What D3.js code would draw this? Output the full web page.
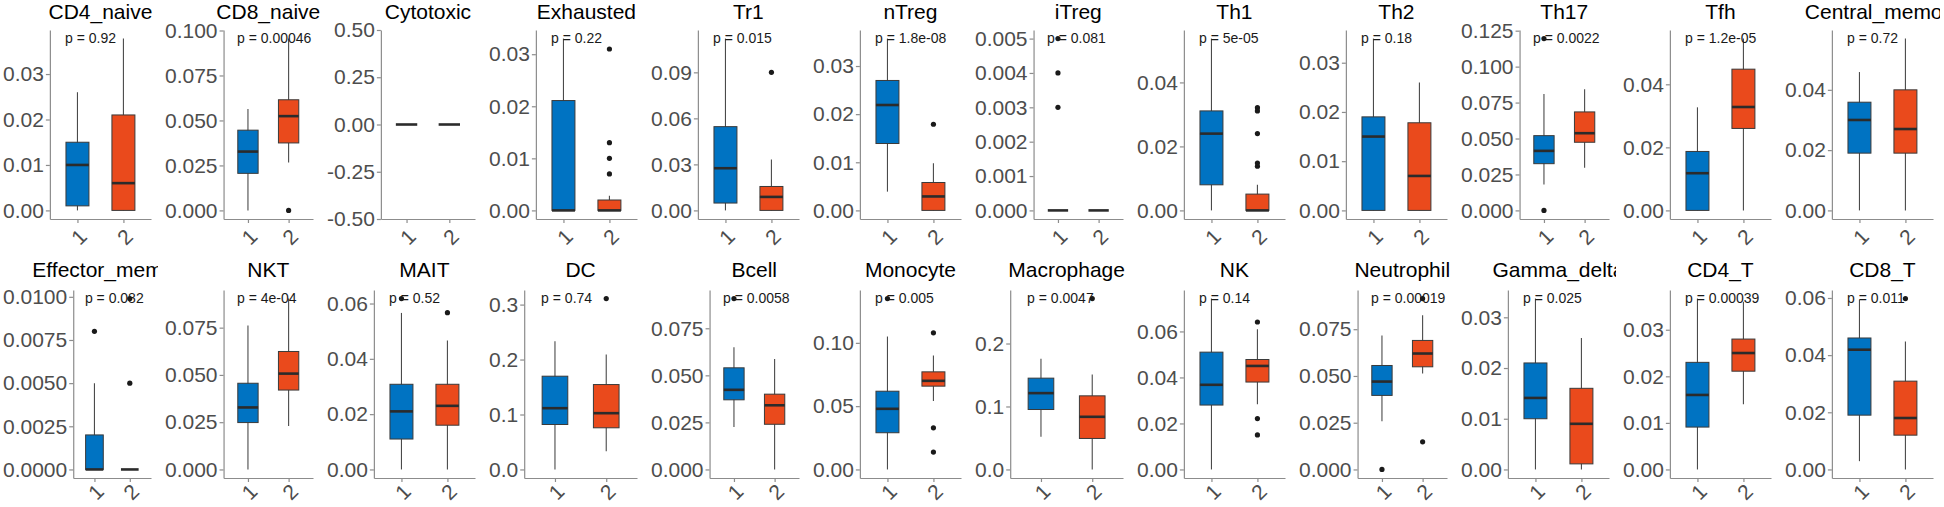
<!DOCTYPE html>
<html><head><meta charset="utf-8">
<script src="https://cdn.jsdelivr.net/npm/d3@7"></script>
<style>
body{margin:0;background:#fff}
text{font-family:"Liberation Sans",Arial,Helvetica,sans-serif}
</style>
</head><body>
<svg id="chart" width="1944" height="507"></svg>
<script>
const panels = ["CD4_naive","CD8_naive","Cytotoxic","Exhausted","Tr1","nTreg","iTreg","Th1","Th2","Th17","Tfh","Central_memory",
  "Effector_memory","NKT","MAIT","DC","Bcell","Monocyte","Macrophage","NK","Neutrophil","Gamma_delta","CD4_T","CD8_T"];
const groups = ["1","2"];
const groupColors = ["#0073C2","#EA4A1C"];
const pLabels = ["p = 0.92","p = 0.00046",null,"p = 0.22","p = 0.015","p = 1.8e-08","p = 0.081","p = 5e-05","p = 0.18","p = 0.0022","p = 1.2e-05","p = 0.72",
  "p = 0.082","p = 4e-04","p = 0.52","p = 0.74","p = 0.0058","p = 0.005","p = 0.0047","p = 0.14","p = 0.00019","p = 0.025","p = 0.00039","p = 0.011"];
const yTicks = [
  ["0.00","0.01","0.02","0.03"],
  ["0.000","0.025","0.050","0.075","0.100"],
  ["-0.50","-0.25","0.00","0.25","0.50"],
  ["0.00","0.01","0.02","0.03"],
  ["0.00","0.03","0.06","0.09"],
  ["0.00","0.01","0.02","0.03"],
  ["0.000","0.001","0.002","0.003","0.004","0.005"],
  ["0.00","0.02","0.04"],
  ["0.00","0.01","0.02","0.03"],
  ["0.000","0.025","0.050","0.075","0.100","0.125"],
  ["0.00","0.02","0.04"],
  ["0.00","0.02","0.04"],
  ["0.0000","0.0025","0.0050","0.0075","0.0100"],
  ["0.000","0.025","0.050","0.075"],
  ["0.00","0.02","0.04","0.06"],
  ["0.0","0.1","0.2","0.3"],
  ["0.000","0.025","0.050","0.075"],
  ["0.00","0.05","0.10"],
  ["0.0","0.1","0.2"],
  ["0.00","0.02","0.04","0.06"],
  ["0.000","0.025","0.050","0.075"],
  ["0.00","0.01","0.02","0.03"],
  ["0.00","0.01","0.02","0.03"],
  ["0.00","0.02","0.04","0.06"]
];
// [lower whisker, Q1, median, Q3, upper whisker]
const g1Stats = [
  [0,0.001,0.010,0.015,0.026],
  [0,0.0206,0.0327,0.0446,0.0563],
  [0,0,0,0,0],
  [0,0,0,0.0211,0.033],
  [0,0.0048,0.0275,0.0546,0.112],
  [0.0039,0.0139,0.0219,0.027,0.0357],
  [0,0,0,0,0],
  [0,0.008,0.024,0.0311,0.0537],
  [0,0,0.015,0.019,0.0349],
  [0.0181,0.0325,0.0414,0.052,0.0809],
  [0,0,0.0118,0.0187,0.0327],
  [0,0.019,0.030,0.0359,0.0459],
  [0,0,0,0.002,0.005],
  [0,0.0248,0.0328,0.0456,0.0762],
  [0,0.011,0.021,0.0308,0.0566],
  [0,0.0818,0.1115,0.1697,0.2333],
  [0.0226,0.037,0.0423,0.054,0.0649],
  [0,0.029,0.0479,0.0618,0.105],
  [0.0519,0.0952,0.1212,0.145,0.1757],
  [0,0.028,0.0368,0.051,0.0743],
  [0.0258,0.0396,0.047,0.0556,0.0716],
  [0,0.01,0.0141,0.021,0.0337],
  [0,0.0091,0.016,0.023,0.0367],
  [0.0029,0.019,0.0419,0.046,0.0594]
];
const g2Stats = [
  [0,0,0.006,0.021,0.0378],
  [0.0266,0.0375,0.0524,0.0615,0.0955],
  [0,0,0,0,0],
  [0,0,0,0.002,0.0028],
  [0,0,0.0088,0.0156,0.0332],
  [0,0,0.0029,0.0058,0.0098],
  [0,0,0,0,0],
  [0,0,0,0.0051,0.008],
  [0,0,0.007,0.0178,0.026],
  [0.0297,0.0474,0.0537,0.0685,0.0843],
  [0,0.026,0.0328,0.0448,0.0545],
  [0,0.019,0.027,0.040,0.057],
  [0,0,0,0,0],
  [0.023,0.042,0.0507,0.0624,0.0904],
  [0,0.016,0.023,0.0308,0.0466],
  [0.0333,0.0758,0.1024,0.1545,0.209],
  [0,0.024,0.0341,0.040,0.0587],
  [0.054,0.0658,0.070,0.0771,0.090],
  [0,0.0492,0.0836,0.1169,0.1508],
  [0.0284,0.038,0.045,0.0478,0.0609],
  [0.0513,0.0549,0.062,0.069,0.0825],
  [0,0.0011,0.009,0.016,0.0259],
  [0.014,0.0211,0.025,0.028,0.036],
  [0,0.012,0.018,0.0309,0.0448]
];
const g1Outliers = [[],[],[],[],[],[],[0.003,0.004,0.005],[],[],[0.1195,0],[],[],
  [0.008],[],[0.0618],[],[0.0908],[0.135],[],[],[0],[],[],[]];
const g2Outliers = [[],[0],[],[0.031,0.013,0.010,0.007],[0.090],[0.0179],[],[0.0321,0.0311,0.024,0.0148,0.0138],[],[],[],[],
  [0.005,0.0099],[],[0.0567],[0.311],[],[0.1079,0.0329,0.0137],[0.2714],[0.0641,0.0221,0.015],[0.0914,0.0148],[],[],[0.0598]];
const fixedDomains = {"Cytotoxic":[-0.5,0.5]};

const svg = d3.select("#chart");
const cellW = 162;
const defs = svg.append("defs");

panels.forEach((name,i)=>{
  const row = Math.floor(i/12), col = i%12;
  const cx = col*cellW + 1;
  const top = 30 + row*260, bottom = 219 + row*259;
  const g = svg.append("g");
  // measure tick label width
  const tmp = g.append("g").attr("font-size",21);
  let maxW = 0;
  yTicks[i].forEach(t=>{ const n = tmp.append("text").text(t).node(); maxW = Math.max(maxW, n.getComputedTextLength()); });
  tmp.remove();
  const axX = cx + 2 + maxW + 6;
  const right = cx + cellW - 12;

  const x = d3.scalePoint().domain(groups).range([axX, right]).padding(0.6);
  const step = x.step();
  const stats = [g1Stats[i], g2Stats[i]];
  const outs = [g1Outliers[i], g2Outliers[i]];
  let dom;
  if (fixedDomains[name]) dom = fixedDomains[name];
  else {
    const all = stats[0].concat(stats[1], outs[0], outs[1]);
    const lo = d3.min(all), hi = d3.max(all), r = hi - lo;
    dom = [lo - 0.05*r, hi + 0.05*r];
  }
  const y = d3.scaleLinear().domain(dom).range([bottom, top]);

  // axes
  const yAx = g.append("g").attr("transform",`translate(${axX},0)`)
    .call(d3.axisLeft(y).tickValues(yTicks[i].map(Number)).tickFormat((d,j)=>yTicks[i][j]).tickSize(4).tickSizeOuter(0).tickPadding(2));
  const xAx = g.append("g").attr("transform",`translate(0,${bottom})`)
    .call(d3.axisBottom(x).tickSize(4).tickSizeOuter(0));
  [yAx,xAx].forEach(a=>{
    a.select(".domain").attr("stroke","#8c8c8c").attr("stroke-width",1.2);
    a.selectAll(".tick line").attr("stroke","#8c8c8c").attr("stroke-width",1.2);
    a.selectAll(".tick text").attr("fill","#4d4d4d").attr("font-size",21)
      .attr("font-family",'"Liberation Sans",Arial,sans-serif');
  });
  const lblOff = row === 0 ? 18 : 14;
  xAx.selectAll(".tick text").attr("y",0).attr("dy","0.35em")
    .attr("transform",`translate(1,${lblOff}) rotate(-45)`).attr("text-anchor","middle");

  // boxes
  const bw = step*0.5;
  groups.forEach((grp,j)=>{
    const s = stats[j], gx = x(grp);
    const bg = g.append("g");
    bg.append("line").attr("x1",gx).attr("x2",gx).attr("y1",y(s[0])).attr("y2",y(s[4]))
      .attr("stroke","#4a4a4a").attr("stroke-width",1.1);
    bg.append("rect").attr("x",gx-bw/2).attr("width",bw).attr("y",y(s[3])).attr("height",Math.max(0,y(s[1])-y(s[3])))
      .attr("fill",groupColors[j]).attr("stroke","#3a3a3a").attr("stroke-width",1);
    bg.append("line").attr("x1",gx-bw/2).attr("x2",gx+bw/2).attr("y1",y(s[2])).attr("y2",y(s[2]))
      .attr("stroke","#2b2b2b").attr("stroke-width",2.6);
    bg.selectAll("circle").data(outs[j]).join("circle")
      .attr("cx",gx).attr("cy",d=>y(d)).attr("r",2.6).attr("fill","#1a1a1a");
  });

  // p label
  if (pLabels[i]) {
    const all = stats[0].concat(stats[1], outs[0], outs[1]);
    g.append("text").attr("x", x("1") - 0.27*step).attr("y", y(d3.max(all))).attr("dy","0.35em")
      .attr("font-size",14).attr("fill","#1a1a1a").text(pLabels[i]);
  }

  // title (clipped to the cell, as in the reference)
  const clipId = "clip"+i;
  defs.append("clipPath").attr("id",clipId).append("rect")
    .attr("x",cx-2).attr("y",row*258).attr("width",159).attr("height",30);
  g.append("text").attr("clip-path",`url(#${clipId})`)
    .attr("x",(axX+right)/2).attr("y",18.5+row*258).attr("text-anchor","middle")
    .attr("font-size",21).attr("fill","#000").text(name);
});
</script>
</body></html>
